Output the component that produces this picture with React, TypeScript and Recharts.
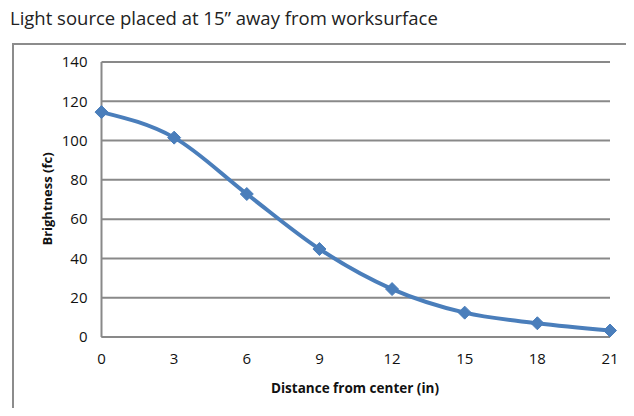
import React from "react";
import {
  LineChart,
  Line,
  XAxis,
  YAxis,
  CartesianGrid,
} from "recharts";

const title = "Light source placed at 15\u201D away from worksurface";
const xTitle = "Distance from center (in)";
const yTitle = "Brightness (fc)";

const distances = [0, 3, 6, 9, 12, 15, 18, 21];
const brightness = [114.5, 101.5, 72.8, 44.8, 24.4, 12.4, 7.0, 3.3];
const xTicks = [0, 3, 6, 9, 12, 15, 18, 21];
const yTicks = [0, 20, 40, 60, 80, 100, 120, 140];

const data = distances.map((d, i) => ({ distance: d, brightness: brightness[i] }));

const FONT = "'Open Sans', 'Noto Sans', sans-serif";
const GRID = "#898989";
const BLUE = "#4A7EBB";

const Diamond = (props: any) => {
  const { cx, cy, index } = props;
  if (cx == null || cy == null) return null;
  const r = 6.5;
  return (
    <path
      key={index}
      d={`M${cx},${cy - r}L${cx + r},${cy}L${cx},${cy + r}L${cx - r},${cy}Z`}
      fill={BLUE}
      stroke={BLUE}
      strokeWidth={1}
    />
  );
};

const App = () => {
  return (
    <div
      style={{
        position: "relative",
        width: 634,
        height: 416,
        margin: -8,
        overflow: "hidden",
        background: "#fff",
        fontFamily: FONT,
      }}
    >
      <div
        style={{
          position: "absolute",
          left: 10,
          top: 5,
          fontSize: 18.5,
          color: "#222",
          whiteSpace: "nowrap",
        }}
      >
        {title}
      </div>
      <div
        style={{
          position: "absolute",
          left: 12,
          top: 43,
          width: 700,
          height: 500,
          border: "2px solid #8c8c8c",
        }}
      />
      <div style={{ position: "absolute", left: 0, top: 0 }}>
        <LineChart
          width={634}
          height={416}
          data={data}
          margin={{ top: 62, right: 24, left: 0, bottom: 39 }}
        >
          <CartesianGrid
            vertical={false}
            stroke={GRID}
            strokeWidth={2}
          />
          <XAxis
            dataKey="distance"
            type="number"
            domain={[0, 21]}
            ticks={xTicks}
            height={40}
            tickLine={false}
            tickSize={0}
            tickMargin={16}
            axisLine={{ stroke: GRID, strokeWidth: 2 }}
            tick={{ fill: "#111", fontSize: 15, fontFamily: FONT }}
          />
          <YAxis
            type="number"
            domain={[0, 140]}
            ticks={yTicks}
            width={101.5}
            tickLine={false}
            tickSize={0}
            tickMargin={14}
            axisLine={{ stroke: GRID, strokeWidth: 2 }}
            tick={{ fill: "#111", fontSize: 15, fontFamily: FONT }}
          />
          <Line
            type="monotone"
            dataKey="brightness"
            stroke={BLUE}
            strokeWidth={4}
            dot={Diamond}
            activeDot={false}
            isAnimationActive={false}
          />
        </LineChart>
      </div>
      <div
        style={{
          position: "absolute",
          left: 355,
          top: 388,
          transform: "translate(-50%, -50%)",
          fontSize: 13.5,
          fontWeight: 700,
          color: "#111",
          whiteSpace: "nowrap",
        }}
      >
        {xTitle}
      </div>
      <div
        style={{
          position: "absolute",
          left: 47,
          top: 199,
          transform: "translate(-50%, -50%) rotate(-90deg)",
          fontSize: 13,
          fontWeight: 700,
          color: "#111",
          whiteSpace: "nowrap",
        }}
      >
        {yTitle}
      </div>
    </div>
  );
};

export default App;
